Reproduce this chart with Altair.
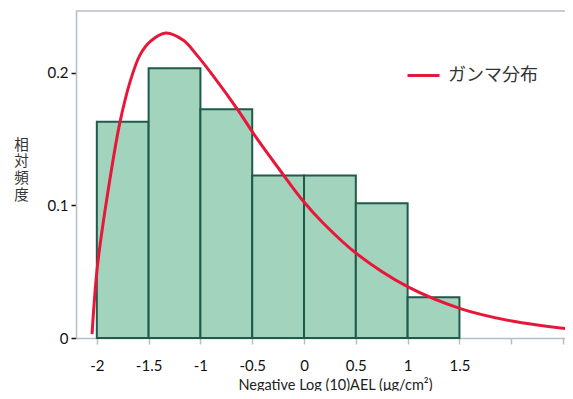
import altair as alt
import pandas as pd

# Histogram (relative frequency per 0.5-wide bin)
bin_start = [-2.0, -1.5, -1.0, -0.5, 0.0, 0.5, 1.0]
bin_end = [-1.5, -1.0, -0.5, 0.0, 0.5, 1.0, 1.5]
rel_freq = [0.163, 0.2035, 0.1726, 0.1225, 0.1225, 0.1017, 0.0308]

# Fitted gamma distribution curve
curve_x = [-2.046, -1.993, -1.873, -1.776, -1.680, -1.583, -1.486, -1.335, -1.165,
           -1.036, -0.875, -0.634, -0.486, -0.232, 0.0, 0.186, 0.509,
           1.004, 1.509, 2.005, 2.597]
curve_y = [0.003, 0.055, 0.120, 0.163, 0.193, 0.2135, 0.2235, 0.230, 0.2245,
           0.2135, 0.1975, 0.1715, 0.154, 0.1265, 0.1025, 0.0865, 0.0635,
           0.0385, 0.0222, 0.0128, 0.0065]

x_ticks = [-2, -1.5, -1, -0.5, 0, 0.5, 1, 1.5, 2, 2.5]
y_ticks = [0, 0.1, 0.2]
legend_label = "ガンマ分布"

hist_df = pd.DataFrame({"start": bin_start, "end": bin_end, "freq": rel_freq,
                        "base": [0.0] * len(rel_freq)})
curve_df = pd.DataFrame({"x": curve_x, "y": curve_y, "series": [legend_label] * len(curve_x)})

FONT = "Lato"
x_scale = alt.Scale(domain=[-2.201, 2.519], nice=False, zero=False)
y_scale = alt.Scale(domain=[0, 0.2466], nice=False)

x_axis = alt.Axis(
    values=x_ticks, grid=False, domainColor="#b4bec8", domainWidth=1.5,
    tickColor="#b4bec8", tickSize=6, tickWidth=1.5,
    labelExpr="datum.value > 1.6 ? '' : toString(datum.value)",
    labelFont=FONT, labelFontSize=15, labelColor="#111", labelPadding=14,
    title="Negative Log (10)AEL (μg/cm²)", titleFont=FONT, titleFontSize=14.5,
    titleFontWeight="normal", titleColor="#222", titleX=259, titleY=47,
    titleAlign="center", titleBaseline="middle", titleAnchor="start",
)
y_axis = alt.Axis(
    values=y_ticks, grid=False, domainColor="#b4bec8", domainWidth=1.5,
    tickColor="#111", tickSize=5, tickWidth=1.5,
    labelExpr="toString(datum.value)",
    labelFont=FONT, labelFontSize=15, labelColor="#111", labelPadding=3,
    title=["相", "対", "頻", "度"], titleFont="Noto Sans CJK JP", titleFontSize=14.5,
    titleFontWeight="normal", titleColor="#333", titleAngle=0,
    titleLineHeight=16.7, titleX=-55, titleY=127, titleAlign="center",
    titleBaseline="top", titleAnchor="start",
)

bars = alt.Chart(hist_df).mark_bar(
    fill="#a2d3bc", stroke="#1f5a4a", strokeWidth=2
).encode(
    x=alt.X("start:Q", scale=x_scale, axis=x_axis),
    x2="end:Q",
    y=alt.Y("freq:Q", scale=y_scale, axis=y_axis),
    y2="base:Q",
)

line = alt.Chart(curve_df).mark_line(
    interpolate="catmull-rom", strokeWidth=3, clip=True
).encode(
    x=alt.X("x:Q", scale=x_scale),
    y=alt.Y("y:Q", scale=y_scale),
    color=alt.Color(
        "series:N",
        scale=alt.Scale(range=["#e8173a"]),
        legend=alt.Legend(
            orient="none", legendX=330, legendY=47, title=None, padding=0,
            symbolType="stroke", symbolSize=1024, symbolStrokeWidth=3,
            labelFont="Noto Sans CJK JP", labelFontSize=18, labelColor="#333",
            labelOffset=7,
        ),
    ),
)

top_border = alt.Chart(pd.DataFrame({"k": [0]})).mark_rule(
    color="#b4bec8", strokeWidth=1.5
).encode(y=alt.value(0))

chart = alt.layer(bars, line, top_border).properties(
    width=489, height=327,
    autosize=alt.AutoSizeParams(type="none"),
    padding={"left": 68, "top": 3, "right": 0, "bottom": 53},
).configure_view(stroke=None)

chart.save("out.html", embed_options={"renderer": "svg", "actions": False})
